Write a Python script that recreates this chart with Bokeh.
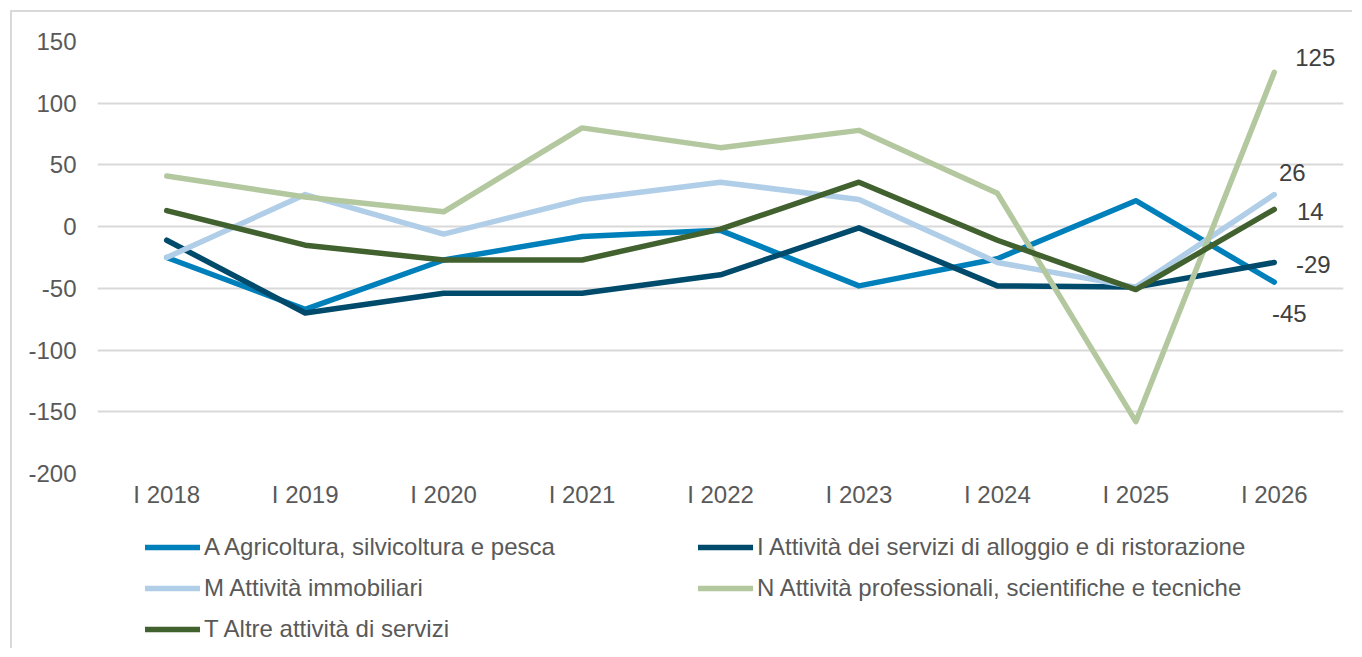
from bokeh.plotting import figure
from bokeh.layouts import column
from bokeh.models import Range1d, FixedTicker, Legend, LegendItem, ColumnDataSource, CustomJSTickFormatter
from bokeh.core.properties import value
from bokeh.embed import file_html
from bokeh.resources import INLINE

categories = ["I 2018", "I 2019", "I 2020", "I 2021", "I 2022", "I 2023", "I 2024", "I 2025", "I 2026"]

series_names = [
    "A Agricoltura, silvicoltura e pesca",
    "I Attività dei servizi di alloggio e di ristorazione",
    "M Attività immobiliari",
    "N Attività professionali, scientifiche e tecniche",
    "T Altre attività di servizi",
]

a_agricoltura = [-25, -67, -27, -8, -3, -48, -26, 21, -45]
i_alloggio = [-11, -70, -54, -54, -39, -1, -48, -49, -29]
m_immobiliari = [-25, 26, -6, 22, 36, 22, -29, -49, 26]
n_professionali = [41, 24, 12, 80, 64, 78, 27, -158, 125]
t_altre = [13, -15, -27, -27, -2, 36, -11, -51, 14]

y_ticks = [-200, -150, -100, -50, 0, 50, 100, 150]

colors = ["#0080BB", "#004A6B", "#B0CEE7", "#B4C8A0", "#41612F"]
all_series = [a_agricoltura, i_alloggio, m_immobiliari, n_professionali, t_altre]

FONT = "Liberation Sans"
FS = "24px"
W = 1340
LW = 5.5

# ---- main chart ----
p = figure(
    x_range=categories,
    y_range=Range1d(-200, 150),
    width=W, height=501,
    output_backend="svg", toolbar_location=None,
    min_border_left=85, min_border_right=9, min_border_top=29, min_border_bottom=40,
)
p.outline_line_color = None
p.background_fill_color = "white"
p.border_fill_color = "white"

p.xgrid.grid_line_color = None
p.ygrid.grid_line_color = "#d9d9d9"
p.ygrid.grid_line_width = 2
p.yaxis.ticker = FixedTicker(ticks=y_ticks)
p.yaxis.formatter = CustomJSTickFormatter(code="return tick.toString();")

for ax in (p.xaxis[0], p.yaxis[0]):
    ax.axis_line_color = None
    ax.major_tick_line_color = None
    ax.minor_tick_line_color = None
    ax.major_label_text_font = FONT
    ax.major_label_text_font_size = FS
    ax.major_label_text_color = "#595959"
p.yaxis.major_label_standoff = 15
p.xaxis.major_label_standoff = 1

for vals, col in zip(all_series, colors):
    p.line(categories, vals, line_color=col, line_width=LW,
           line_cap="round", line_join="round")

# end-of-series data labels (2026)
last_vals = [s[-1] for s in all_series]
lab_dx = [15, 39, 18, 41, 36]
lab_dy = [31, 2, -22, -15, 2]
src = ColumnDataSource(dict(
    x=[categories[-1]] * len(last_vals),
    y=last_vals,
    t=[str(v) for v in last_vals],
    dx=lab_dx, dy=lab_dy,
))
p.text(x="x", y="y", text="t", x_offset="dx", y_offset="dy", source=src,
       text_align="center", text_baseline="middle",
       text_font=value(FONT), text_font_size=FS, text_color="#404040")

# ---- legend strip (its own figure; series drawn out of view, used only for legend keys) ----
LH = 135
p2 = figure(width=W, height=LH, output_backend="svg", toolbar_location=None,
            x_axis_location=None, y_axis_location=None,
            min_border=0, x_range=categories, y_range=Range1d(1000, 1100))
p2.outline_line_color = None
p2.xgrid.grid_line_color = None
p2.ygrid.grid_line_color = None
p2.background_fill_color = "white"
p2.border_fill_color = "white"

col_x = [48, 601]
row_c = [34, 75, 116]
item_h = 28
grid_pos = [(0, 0), (1, 0), (0, 1), (1, 1), (0, 2)]
for name, vals, col, (ci, ri) in zip(series_names, all_series, colors, grid_pos):
    proxy = p2.line(categories, vals, line_color=col, line_width=LW, line_cap="round")
    ly = LH - (row_c[ri] + item_h / 2)
    lg = Legend(items=[LegendItem(label=name, renderers=[proxy])], location=(col_x[ci], ly))
    lg.padding = 0
    lg.margin = 0
    lg.border_line_color = None
    lg.background_fill_alpha = 0
    lg.glyph_width = 55
    lg.glyph_height = item_h
    lg.label_height = item_h
    lg.label_standoff = 4
    lg.label_text_font = FONT
    lg.label_text_font_size = FS
    lg.label_text_color = "#595959"
    lg.label_text_baseline = "middle"
    p2.add_layout(lg, "center")

layout = column(p, p2, spacing=0)
layout.margin = (10, 0, 0, 10)
layout.styles = {"border-left": "2px solid #d9d9d9", "border-top": "2px solid #d9d9d9"}

open("out.html", "w").write(file_html(layout, INLINE))
